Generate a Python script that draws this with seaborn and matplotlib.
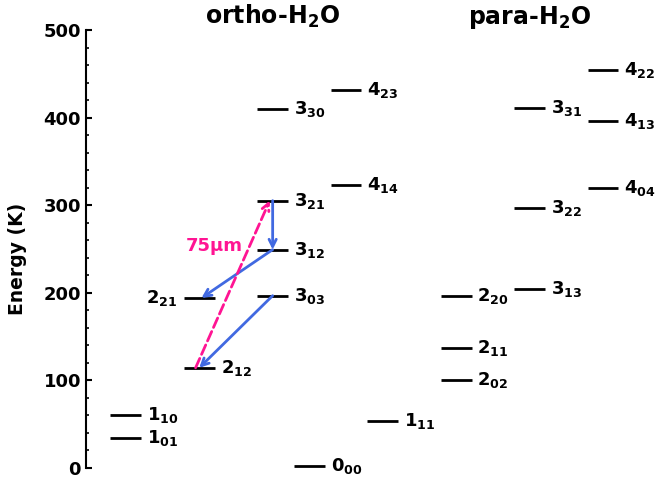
import matplotlib
matplotlib.use("Agg")
import matplotlib.pyplot as plt
import seaborn as sns
from matplotlib.ticker import MultipleLocator

# Niveaux d'énergie (K)
ortho_labels = ['1_{01}', '1_{10}', '2_{12}', '2_{21}', '3_{03}', '3_{12}', '3_{21}', '3_{30}', '4_{14}', '4_{23}']
ortho_J = [1, 1, 2, 2, 3, 3, 3, 3, 4, 4]
ortho_E = [34.2, 61.0, 114.4, 194.1, 196.8, 249.4, 305.3, 410.4, 323.5, 432.2]

para_labels = ['0_{00}', '1_{11}', '2_{02}', '2_{11}', '2_{20}', '3_{13}', '3_{22}', '3_{31}', '4_{04}', '4_{13}', '4_{22}']
para_J = [0, 1, 2, 2, 2, 3, 3, 3, 4, 4, 4]
para_E = [2.5, 53.4, 100.8, 136.9, 195.9, 204.7, 296.8, 410.7, 319.5, 396.4, 454.3]

# transitions (niveau haut -> niveau bas)
blue_from = ['3_{21}', '3_{12}', '3_{03}']
blue_to = ['3_{12}', '2_{21}', '2_{12}']
pink_from = '2_{12}'
pink_to = '3_{21}'
pink_text = '75μm'

para_shift = 3.5
half = 0.21

sns.set_style("ticks", {'axes.edgecolor': 'black', 'text.color': 'black',
                        'xtick.color': 'black', 'ytick.color': 'black',
                        'axes.labelcolor': 'black'})
plt.rcParams['font.family'] = ['DejaVu Sans']
plt.rcParams['font.weight'] = 'bold'
plt.rcParams['mathtext.default'] = 'bf'

fig = plt.figure(figsize=(6.61, 4.79), dpi=100)
ax = fig.add_axes([0.130, 0.023, 0.861, 0.914])

ortho_x = dict(zip(ortho_labels, ortho_J))
ortho_y = dict(zip(ortho_labels, ortho_E))

# niveaux ortho
for lab, j, e in zip(ortho_labels, ortho_J, ortho_E):
    ax.hlines(e, j - half, j + half, color='black', lw=2)
    if lab == '2_{21}':
        ax.text(j - half - 0.09, e, f'${lab}$', ha='right', va='center', fontsize=13)
    else:
        ax.text(j + half + 0.08, e, f'${lab}$', ha='left', va='center', fontsize=13)

# niveaux para
for lab, j, e in zip(para_labels, para_J, para_E):
    x = j + para_shift
    ax.hlines(e, x - half, x + half, color='black', lw=2)
    ax.text(x + half + 0.08, e, f'${lab}$', ha='left', va='center', fontsize=13)

# flèches bleues
blue_dx = {'3_{12}': 0.0, '2_{21}': 0.03, '2_{12}': 0.0}
for a, b in zip(blue_from, blue_to):
    ax.annotate('', xy=(ortho_x[b] + blue_dx[b], ortho_y[b]), xytext=(ortho_x[a], ortho_y[a]),
                arrowprops=dict(arrowstyle='->', color='royalblue', lw=2,
                                shrinkA=0, shrinkB=0, mutation_scale=13))

# flèche rose en tirets
ax.annotate('', xy=(ortho_x[pink_to] - 0.04, ortho_y[pink_to]),
            xytext=(ortho_x[pink_from] - 0.05, ortho_y[pink_from]),
            arrowprops=dict(arrowstyle='->', color='deeppink', lw=2, linestyle='--',
                            shrinkA=0, shrinkB=0, mutation_scale=13))
ax.text(2.21, 253, pink_text, color='deeppink', fontsize=13, ha='center', va='center')

# titres
ax.text(3, 507, r'ortho-H$_2$O', ha='center', va='baseline', fontsize=17)
ax.text(3 + para_shift, 507, r'para-H$_2$O', ha='center', va='baseline', fontsize=17)

ax.set_xlim(0.456, 8.21)
ax.set_ylim(0, 500)
ax.yaxis.set_major_locator(MultipleLocator(100))
ax.yaxis.set_minor_locator(MultipleLocator(20))
ax.tick_params(axis='y', which='major', direction='in', length=4, width=1.5, labelsize=13)
ax.tick_params(axis='y', which='minor', direction='in', length=2, width=1.2)
ax.set_xticks([])
ax.set_ylabel('Energy (K)', fontsize=13.5, fontweight='bold')
ax.yaxis.set_label_coords(-0.104, 0.478)
for t in ax.get_yticklabels():
    t.set_fontweight('bold')
sns.despine(ax=ax, bottom=True)
ax.spines['left'].set_linewidth(1.5)

fig.savefig('out.png', dpi=100)
